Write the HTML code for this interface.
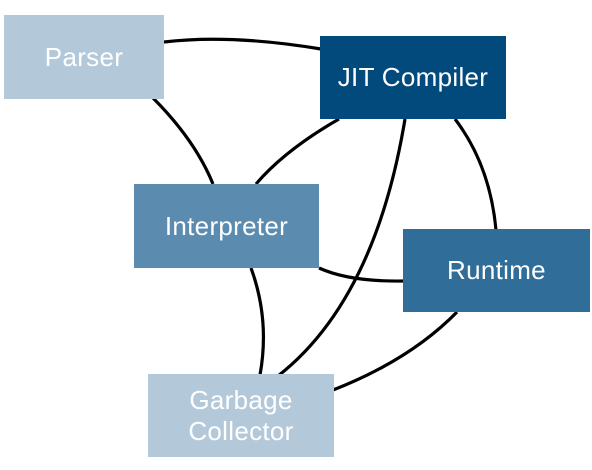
<!DOCTYPE html>
<html><head><style>
body{margin:0;width:592px;height:470px;background:#fff;overflow:hidden;font-family:"Liberation Sans",sans-serif}
.b{position:absolute;display:flex;align-items:center;justify-content:center;text-align:center;color:#fff;font-size:26px;line-height:31px;letter-spacing:0.3px}
</style></head><body>
<svg width="592" height="470" style="position:absolute;left:0;top:0" fill="none" stroke="#000" stroke-width="3.2">
<path d="M164 42 Q230 34 321 49"/>
<path d="M153 98 Q195 140 213 184"/>
<path d="M339 119 Q285 150 256 184"/>
<path d="M405 119 Q375 300 278 376"/>
<path d="M455 119 Q490 165 496 230"/>
<path d="M319 268 Q350 282 404 281"/>
<path d="M251 268 Q270 320 260 375"/>
<path d="M457 312 Q410 360 333 390"/>
</svg>
<div class="b" style="left:4px;top:15px;width:160px;height:84px;background:#b3c9da">Parser</div>
<div class="b" style="left:320px;top:36px;width:186px;height:83px;background:#034a7c">JIT Compiler</div>
<div class="b" style="left:134px;top:184px;width:185px;height:84px;background:#5b8bae">Interpreter</div>
<div class="b" style="left:403px;top:229px;width:187px;height:83px;background:#316d99">Runtime</div>
<div class="b" style="left:148px;top:374px;width:186px;height:83px;background:#b3c9da">Garbage<br>Collector</div>
</body></html>
